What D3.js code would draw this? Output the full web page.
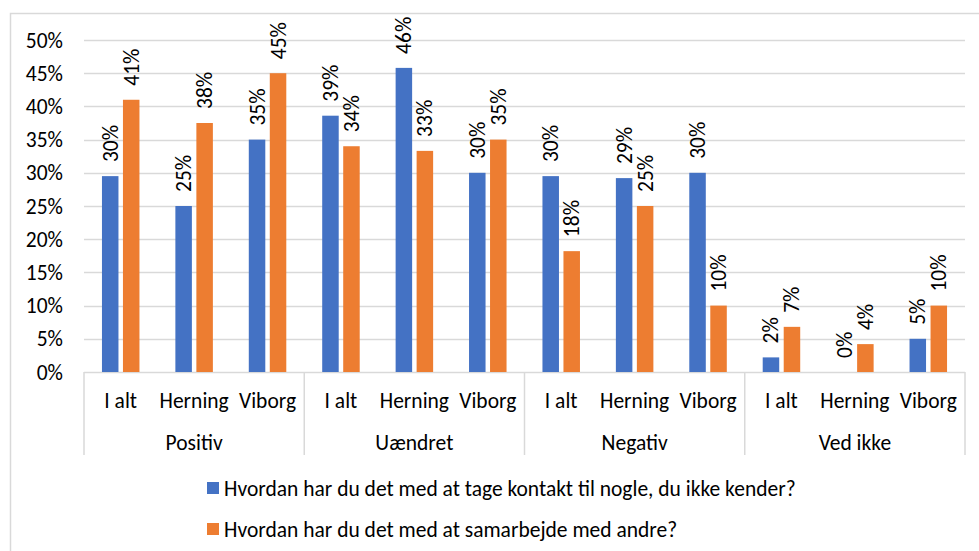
<!DOCTYPE html>
<html>
<head>
<meta charset="utf-8">
<script src="https://cdn.jsdelivr.net/npm/d3@7"></script>
<style>
  body { margin: 0; background: #fff; }
  svg text { font-family: Calibri, Carlito, Lato, "Open Sans", sans-serif; fill: #000; }
</style>
</head>
<body>
<div id="chart"></div>
<script>
// chart data
const groups = ["Positiv", "Uændret", "Negativ", "Ved ikke"];
const places = ["I alt", "Herning", "Viborg"];
const seriesNames = [
  "Hvordan har du det med at tage kontakt til nogle, du ikke kender?",
  "Hvordan har du det med at samarbejde med andre?"
];
// values per group, per place (percent)
const kontaktValues = [29.5, 25, 35, 38.6, 45.8, 30, 29.5, 29.2, 30, 2.2, 0, 5];
const samarbejdeValues = [41, 37.5, 45, 34, 33.3, 35, 18.2, 25, 10, 6.8, 4.2, 10];
const yTicks = [0, 5, 10, 15, 20, 25, 30, 35, 40, 45, 50];
const colors = ["#4472c4", "#ed7d31"];

let width = 979;
let height = 551;
let fontSize = '21.5px';

let svg = d3.select('#chart')
  .append('svg')
  .attr('width', width)
  .attr('height', height)

// outer chart border (left + top, rest is cropped)
svg.append('path')
  .attr('d', `M10.5,${height} V13.5 H${width}`)
  .attr('fill', 'none')
  .attr('stroke', '#d9d9d9')
  .attr('stroke-width', 1.5)

const plot = { left: 84, right: 965, top: 40, bottom: 372 };

// one slot per group/place pair
const cats = [];
groups.forEach(g => places.forEach(p => cats.push(g + '|' + p)));

const x0 = d3.scaleBand().domain(cats).range([plot.left, plot.right]).padding(0);
const x1 = d3.scaleBand().domain([0, 1]).range([0, x0.bandwidth()]).paddingInner(0.214).paddingOuter(0.855);
const y = d3.scaleLinear().domain([0, 50]).range([plot.bottom, plot.top]);

// gridlines
svg.append('g')
  .selectAll('line')
  .data(yTicks)
  .enter()
  .append('line')
  .attr('x1', plot.left)
  .attr('x2', plot.right)
  .attr('y1', d => Math.round(y(d)) + 0.5)
  .attr('y2', d => Math.round(y(d)) + 0.5)
  .attr('stroke', '#d9d9d9')
  .attr('stroke-width', 1.5)

// y tick labels
svg.append('g')
  .selectAll('text')
  .data(yTicks)
  .enter()
  .append('text')
  .attr('x', 63)
  .attr('y', d => y(d))
  .attr('dy', '0.35em')
  .attr('text-anchor', 'end')
  .style('font-size', fontSize)
  .text(d => d + '%')

// bars
const rows = cats.map((c, i) => ({ cat: c, vals: [kontaktValues[i], samarbejdeValues[i]] }));

const catG = svg.append('g')
  .selectAll('g')
  .data(rows)
  .enter()
  .append('g')
  .attr('transform', d => `translate(${x0(d.cat)},0)`)

catG.selectAll('rect')
  .data(d => d.vals.map((v, s) => ({ v: v, s: s })))
  .enter()
  .append('rect')
  .attr('x', d => x1(d.s))
  .attr('width', x1.bandwidth())
  .attr('y', d => y(d.v))
  .attr('height', d => y(0) - y(d.v))
  .attr('fill', d => colors[d.s])

// value labels, rotated
catG.selectAll('text')
  .data(d => d.vals.map((v, s) => ({ v: v, s: s })))
  .enter()
  .append('text')
  .attr('transform', d => `translate(${x1(d.s) + x1.bandwidth() / 2},${y(d.v) - 14}) rotate(-90)`)
  .attr('dy', '0.35em')
  .attr('text-anchor', 'start')
  .style('font-size', fontSize)
  .text(d => Math.round(d.v) + '%')

// category axis separators
const sepX = groups.map((g, i) => x0(g + '|' + places[0])).concat([plot.right]);
svg.append('g')
  .selectAll('line')
  .data(sepX)
  .enter()
  .append('line')
  .attr('x1', d => d)
  .attr('x2', d => d)
  .attr('y1', plot.bottom)
  .attr('y2', 455)
  .attr('stroke', '#d9d9d9')
  .attr('stroke-width', 1.5)

// place labels
svg.append('g')
  .selectAll('text')
  .data(cats)
  .enter()
  .append('text')
  .attr('x', d => x0(d) + x0.bandwidth() / 2)
  .attr('y', 400)
  .attr('dy', '0.35em')
  .attr('text-anchor', 'middle')
  .style('font-size', fontSize)
  .text(d => d.split('|')[1])

// group labels
svg.append('g')
  .selectAll('text')
  .data(groups)
  .enter()
  .append('text')
  .attr('x', d => x0(d + '|' + places[1]) + x0.bandwidth() / 2)
  .attr('y', 442)
  .attr('dy', '0.35em')
  .attr('text-anchor', 'middle')
  .style('font-size', fontSize)
  .text(d => d)

// legend
const legend = svg.append('g')
  .selectAll('g')
  .data(seriesNames)
  .enter()
  .append('g')
  .attr('transform', (d, i) => `translate(207,${488 + i * 41})`)

legend.append('rect')
  .attr('x', 0)
  .attr('y', -6)
  .attr('width', 12)
  .attr('height', 12)
  .attr('fill', (d, i) => colors[i])

legend.append('text')
  .attr('x', 17)
  .attr('y', 0)
  .attr('dy', '0.35em')
  .style('font-size', fontSize)
  .text(d => d)
</script>
</body>
</html>
